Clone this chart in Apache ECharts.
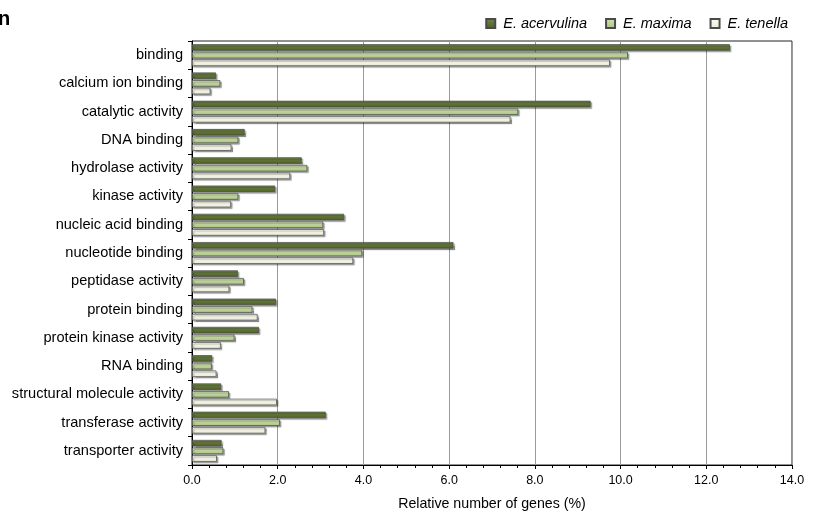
<!DOCTYPE html>
<html>
<head>
<meta charset="utf-8">
<script src="https://cdn.jsdelivr.net/npm/echarts@6/dist/echarts.min.js"></script>
<style>
  html, body { margin: 0; padding: 0; background: #fff; }
  #chart { width: 814px; height: 516px; }
</style>
</head>
<body>
<div id="chart"></div>
<script>
// GO molecular function categories (top to bottom)
const categories = [
  'binding', 'calcium ion binding', 'catalytic activity', 'DNA binding',
  'hydrolase activity', 'kinase activity', 'nucleic acid binding',
  'nucleotide binding', 'peptidase activity', 'protein binding',
  'protein kinase activity', 'RNA binding', 'structural molecule activity',
  'transferase activity', 'transporter activity'
];

// Relative number of genes (%) per species
const acervulina = [12.55, 0.56, 9.30, 1.23, 2.56, 1.94, 3.55, 6.10, 1.07, 1.96, 1.56, 0.47, 0.68, 3.12, 0.69];
const maxima     = [10.17, 0.66, 7.61, 1.08, 2.69, 1.08, 3.06, 3.97, 1.21, 1.41, 0.99, 0.46, 0.86, 2.05, 0.73];
const tenella    = [9.75, 0.43, 7.43, 0.92, 2.29, 0.91, 3.08, 3.76, 0.87, 1.53, 0.67, 0.57, 1.98, 1.71, 0.58];

const seriesNames = ['E. acervulina', 'E. maxima', 'E. tenella'];
const xTicks = { min: 0, max: 14, step: 2 };

function grad(top, bottom) {
  return new echarts.graphic.LinearGradient(0, 0, 0, 1, [
    { offset: 0, color: top }, { offset: 1, color: bottom }
  ]);
}

const palette = [
  grad('#72874a', '#4c6022'),
  grad('#d3e3b6', '#a9c47f'),
  grad('#fcfcf3', '#e8ead5')
];

function barSeries(name, data, fill) {
  return {
    name: name,
    type: 'bar',
    data: data,
    barWidth: 6.5,
    barGap: '18%',
    itemStyle: {
      color: fill,
      borderColor: '#4a4a4a',
      borderWidth: 0.7,
      shadowColor: 'rgba(0,0,0,0.35)',
      shadowOffsetX: 1.5,
      shadowOffsetY: 1.5,
      shadowBlur: 1
    }
  };
}

const chart = echarts.init(document.getElementById('chart'), null, { renderer: 'canvas' });

chart.setOption({
  backgroundColor: '#ffffff',
  animation: false,
  textStyle: { fontFamily: 'Liberation Sans, Arial, sans-serif', color: '#000' },
  graphic: [{
    type: 'text', left: -2, top: 9,
    style: { text: 'n', font: 'bold 20px Liberation Sans, Arial, sans-serif', fill: '#000' }
  }],
  legend: {
    top: 11, right: 21,
    itemWidth: 9, itemHeight: 9, itemGap: 18,
    icon: 'rect',
    textStyle: { fontStyle: 'italic', fontSize: 14.5, color: '#000', padding: [0, 0, 0, 3] },
    data: seriesNames
  },
  grid: {
    left: 192, right: 22, top: 41, bottom: 51,
    containLabel: false,
    outerBoundsMode: 'none',
    show: true, borderColor: '#222', borderWidth: 1
  },
  xAxis: {
    type: 'value',
    min: xTicks.min, max: xTicks.max, interval: xTicks.step,
    name: 'Relative number of genes (%)',
    nameLocation: 'middle', nameGap: 32,
    nameTextStyle: { fontSize: 14.2, color: '#000' },
    axisLine: { show: true, lineStyle: { color: '#000', width: 1 } },
    axisTick: { show: true, length: 4, lineStyle: { color: '#000' } },
    minorTick: { show: true, splitNumber: 5, length: 3, lineStyle: { color: '#000' } },
    axisLabel: { fontSize: 12.5, color: '#000', margin: 9, formatter: v => v.toFixed(1) },
    splitLine: { show: true, lineStyle: { color: '#9a9a9a', width: 1 } }
  },
  yAxis: {
    type: 'category',
    inverse: true,
    data: categories,
    axisLine: { show: true, lineStyle: { color: '#000', width: 1 } },
    axisTick: { show: true, length: 4, lineStyle: { color: '#000' } },
    axisLabel: { fontSize: 14.6, color: '#000', margin: 9 },
    splitLine: { show: false }
  },
  series: [
    barSeries(seriesNames[0], acervulina, palette[0]),
    barSeries(seriesNames[1], maxima, palette[1]),
    barSeries(seriesNames[2], tenella, palette[2])
  ]
});
</script>
</body>
</html>
